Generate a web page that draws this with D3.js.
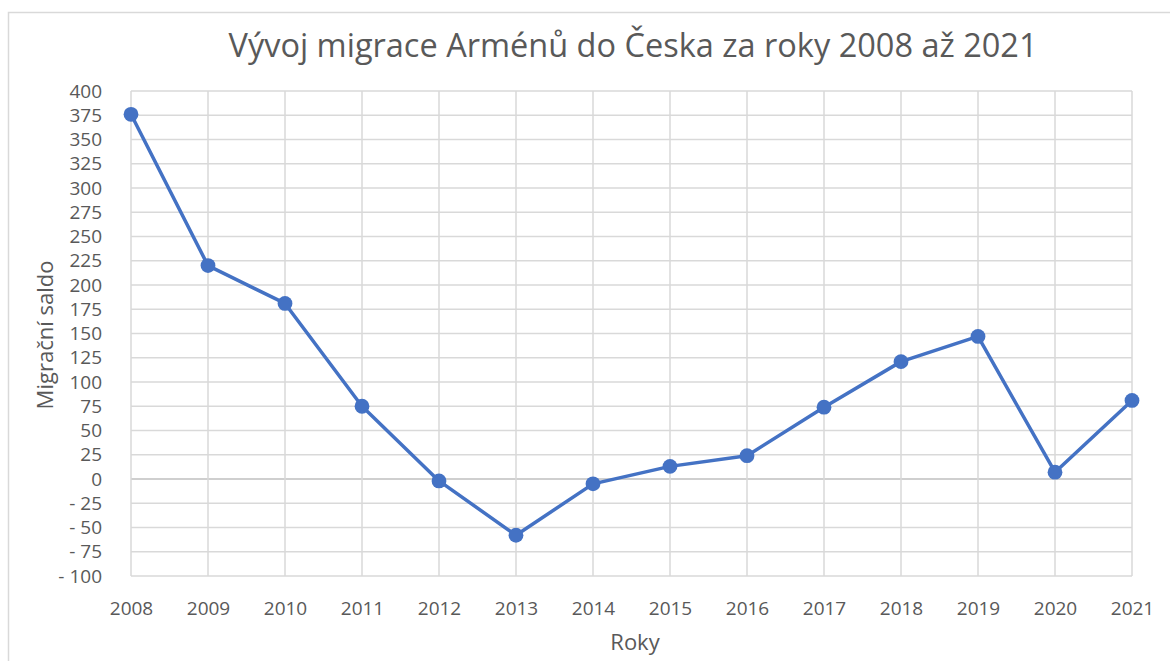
<!DOCTYPE html>
<html>
<head>
<meta charset="utf-8">
<script src="https://cdn.jsdelivr.net/npm/d3@7"></script>
<style>
  html, body { margin: 0; padding: 0; background: #fff; }
  svg { display: block; }
  text { font-family: "Open Sans", "Noto Sans", sans-serif; fill: #595959; }
</style>
</head>
<body>
<svg id="chart" width="1170" height="661"></svg>
<script>
const years = ["2008","2009","2010","2011","2012","2013","2014","2015","2016","2017","2018","2019","2020","2021"];
const saldo = [376, 220, 181, 75, -2, -58, -5, 13, 24, 74, 121, 147, 7, 81];
const yTicks = [-100,-75,-50,-25,0,25,50,75,100,125,150,175,200,225,250,275,300,325,350,375,400];
const titleText = "Vývoj migrace Arménů do Česka za roky 2008 až 2021";
const xTitle = "Roky";
const yTitle = "Migrační saldo";

const svg = d3.select("#chart");
const W = 1170, H = 661;
const m = { left: 131, right: 1132, top: 91, bottom: 576 };
const FONT = "'Open Sans', sans-serif";

// chart border
svg.append("rect").attr("x", 8.5).attr("y", 12.5).attr("width", W + 20).attr("height", H + 20)
  .attr("fill", "none").attr("stroke", "#d9d9d9").attr("stroke-width", 1.5);

const x = d3.scalePoint().domain(years).range([m.left, m.right]);
const y = d3.scaleLinear().domain([-100, 400]).range([m.bottom, m.top]);

// horizontal gridlines
svg.append("g").selectAll("line").data(yTicks).join("line")
  .attr("x1", m.left).attr("x2", m.right)
  .attr("y1", d => y(d)).attr("y2", d => y(d))
  .attr("stroke", d => d === 0 ? "#bfbfbf" : "#d9d9d9").attr("stroke-width", 1.5);

// vertical gridlines
svg.append("g").selectAll("line").data(years).join("line")
  .attr("x1", d => x(d)).attr("x2", d => x(d))
  .attr("y1", m.top).attr("y2", m.bottom)
  .attr("stroke", "#d9d9d9").attr("stroke-width", 1.5);

// y axis labels
const fmt = d => d < 0 ? "- " + Math.abs(d) : String(d);
const yAxis = d3.axisLeft(y).tickValues(yTicks).tickFormat(fmt).tickSize(0).tickPadding(0);
const gy = svg.append("g").attr("transform", `translate(${m.left - 29},0)`).call(yAxis);
gy.select(".domain").remove();
gy.selectAll("text").attr("font-size", 19).attr("fill", "#595959").style("font-family", FONT);

// x axis labels
const xAxis = d3.axisBottom(x).tickSize(0).tickPadding(0);
const gx = svg.append("g").attr("transform", `translate(0,${m.bottom + 25})`).call(xAxis);
gx.select(".domain").remove();
gx.selectAll("text").attr("font-size", 19).attr("fill", "#595959").style("font-family", FONT);

// line
const pts = years.map((yr, i) => ({ yr, v: saldo[i] }));
svg.append("path").datum(pts)
  .attr("fill", "none").attr("stroke", "#4472c4").attr("stroke-width", 3.5)
  .attr("stroke-linejoin", "round")
  .attr("d", d3.line().x(d => x(d.yr)).y(d => y(d.v)));

svg.append("g").selectAll("circle").data(pts).join("circle")
  .attr("cx", d => x(d.yr)).attr("cy", d => y(d.v)).attr("r", 7.4)
  .attr("fill", "#4472c4");

// title
const t = svg.append("text").attr("x", 633).attr("y", 57).attr("text-anchor", "middle")
  .attr("font-size", 30).text(titleText);
const tw = t.node().getComputedTextLength();
t.attr("font-size", 30 * 809 / tw);

// axis titles
svg.append("text").attr("x", 635).attr("y", 650).attr("text-anchor", "middle")
  .attr("font-size", 22).text(xTitle);
svg.append("text").attr("transform", "translate(53,335) rotate(-90)")
  .attr("text-anchor", "middle").attr("font-size", 22).text(yTitle);
</script>
</body>
</html>
